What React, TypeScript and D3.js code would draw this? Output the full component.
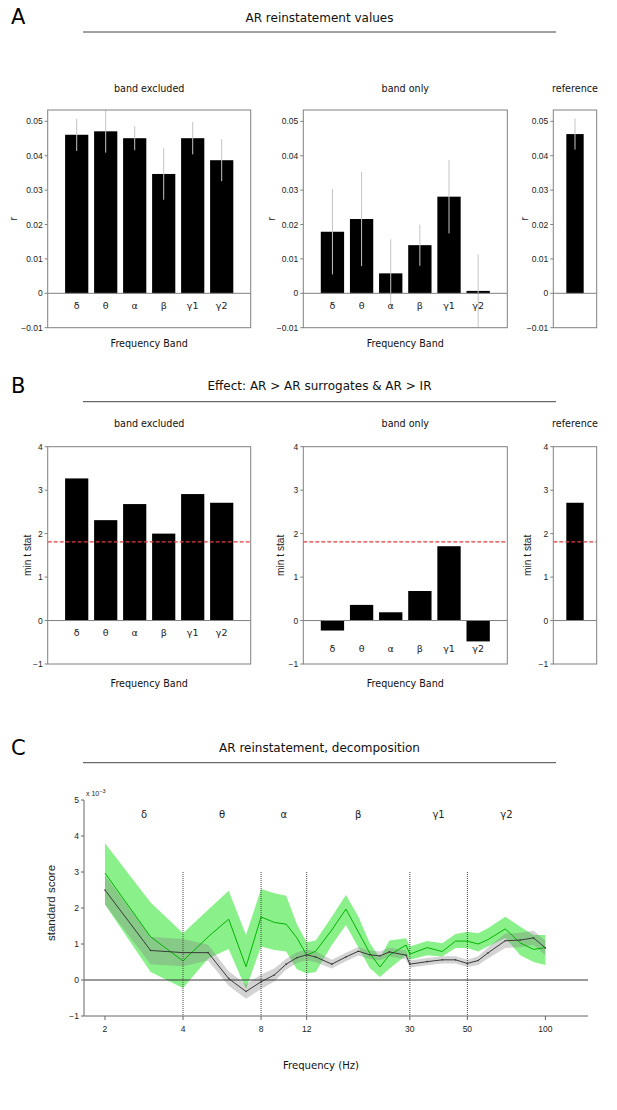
import * as d3 from "d3";

const VERDANA = "'DejaVu Sans', Verdana, sans-serif";
const ARIAL = "'Liberation Sans', Arial, sans-serif";

const bandNames = ["δ", "θ", "α", "β", "γ1", "γ2"];

// panel A: r values with error bars
const excludedR = [0.0461, 0.0471, 0.0451, 0.0347, 0.0451, 0.0387];
const excludedRErr = [0.0047, 0.0062, 0.0035, 0.0075, 0.0047, 0.0061];
const onlyR = [0.0179, 0.0216, 0.0058, 0.014, 0.0281, 0.0007];
const onlyRErr = [0.0124, 0.0137, 0.0099, 0.006, 0.0107, 0.0106];
const referenceR = [0.0463];
const referenceRErr = [0.0045];
const rTicks = [-0.01, 0, 0.01, 0.02, 0.03, 0.04, 0.05];

// panel B: min t stat
const excludedT = [3.27, 2.31, 2.68, 2.0, 2.91, 2.71];
const onlyT = [-0.23, 0.36, 0.19, 0.68, 1.71, -0.48];
const referenceT = [2.71];
const tTicks = [-1, 0, 1, 2, 3, 4];
const tThreshold = 1.81;

// panel C: decomposition (x 10^-3)
const freqs = [2, 3, 4, 5, 6, 7, 8, 9, 10, 11, 12, 13, 15, 17, 19, 21, 23, 25, 29, 30, 35, 40, 45, 50, 55, 60, 70, 80, 90, 100];
const greenMean = [2.97, 1.2, 0.53, 1.2, 1.69, 0.37, 1.75, 1.6, 1.55, 1.17, 0.69, 0.8, 1.39, 1.97, 1.33, 0.75, 0.36, 0.69, 0.97, 0.72, 0.9, 0.79, 1.08, 1.08, 1.0, 1.12, 1.42, 1.03, 0.85, 0.9];
const greenUpper = [3.8, 2.15, 1.3, 1.95, 2.48, 1.25, 2.53, 2.41, 2.34, 1.55, 1.05, 1.1, 1.76, 2.36, 1.76, 1.03, 0.61, 1.1, 1.16, 0.93, 1.08, 1.02, 1.28, 1.34, 1.3, 1.44, 1.76, 1.48, 1.25, 1.25];
const greenLower = [2.1, 0.22, -0.22, 0.6, 0.86, -0.25, 0.93, 0.83, 0.79, 0.3, 0.18, 0.22, 0.97, 1.53, 0.9, 0.33, 0.08, 0.31, 0.69, 0.56, 0.69, 0.65, 0.89, 0.89, 0.79, 0.93, 1.17, 0.69, 0.5, 0.42];
const grayMean = [2.5, 0.82, 0.76, 0.76, 0.04, -0.32, -0.05, 0.14, 0.44, 0.62, 0.7, 0.64, 0.44, 0.64, 0.8, 0.7, 0.67, 0.78, 0.69, 0.44, 0.51, 0.56, 0.56, 0.46, 0.54, 0.75, 1.09, 1.11, 1.17, 0.89];
const graySem = [0.4, 0.38, 0.38, 0.22, 0.2, 0.2, 0.2, 0.18, 0.15, 0.15, 0.15, 0.15, 0.12, 0.12, 0.12, 0.12, 0.12, 0.12, 0.12, 0.1, 0.1, 0.1, 0.1, 0.1, 0.12, 0.15, 0.2, 0.2, 0.2, 0.2];
const bandEdges = [2, 4, 8, 12, 30, 50, 100];
const freqTicks = [2, 4, 8, 12, 30, 50, 100];
const scoreTicks = [-1, 0, 1, 2, 3, 4, 5];

const minus = (s: string) => s.replace("-", "\u2212");

type BarPanelProps = {
  left: number;
  right: number;
  top: number;
  bottom: number;
  domain: [number, number];
  ticks: number[];
  fmt: (v: number) => string;
  values: number[];
  errs?: number[];
  labels?: string[];
  labelY?: number;
  threshold?: number;
  title: string;
  titleY: number;
  yLabel: string;
  yLabelX: number;
  xLabel?: string;
  xLabelY?: number;
};

const BarPanel = (p: BarPanelProps) => {
  const x = d3.scaleLinear().domain([0, p.values.length + 1]).range([p.left, p.right]);
  const y = d3.scaleLinear().domain(p.domain).range([p.bottom, p.top]);
  const bw = x(0.8) - x(0);
  const cx = (p.left + p.right) / 2;
  const clamp = (v: number) => Math.max(p.top, Math.min(p.bottom, v));
  return (
    <g>
      <text x={cx} y={p.titleY} textAnchor="middle" fontFamily={VERDANA} fontSize={9.6} fill="#111">
        {p.title}
      </text>
      {p.values.map((v, i) => (
        <rect
          key={i}
          x={x(i + 1) - bw / 2}
          y={y(Math.max(v, 0))}
          width={bw}
          height={Math.abs(y(v) - y(0))}
          fill="#000"
        />
      ))}
      {p.errs &&
        p.values.map((v, i) => (
          <line
            key={i}
            x1={x(i + 1)}
            x2={x(i + 1)}
            y1={clamp(y(v + p.errs![i]))}
            y2={clamp(y(v - p.errs![i]))}
            stroke="#c4c4c4"
            strokeWidth={1}
          />
        ))}
      <line x1={p.left} x2={p.right} y1={y(0)} y2={y(0)} stroke="#808080" strokeWidth={1} />
      {p.threshold !== undefined && (
        <line
          x1={p.left}
          x2={p.right}
          y1={y(p.threshold)}
          y2={y(p.threshold)}
          stroke="#e03c3c"
          strokeWidth={1.4}
          strokeDasharray="4,2"
        />
      )}
      <rect x={p.left} y={p.top} width={p.right - p.left} height={p.bottom - p.top} fill="none" stroke="#808080" strokeWidth={1} />
      {p.ticks.map((t) => (
        <g key={t}>
          <line x1={p.left - 3} x2={p.left} y1={y(t)} y2={y(t)} stroke="#808080" />
          <text x={p.left - 5} y={y(t) + 3} textAnchor="end" fontFamily={ARIAL} fontSize={8.5} fill="#222">
            {minus(p.fmt(t))}
          </text>
        </g>
      ))}
      {p.labels &&
        p.labels.map((l, i) => (
          <text key={l} x={x(i + 1)} y={p.labelY} textAnchor="middle" fontFamily={VERDANA} fontSize={9.5} fill="#222">
            {l}
          </text>
        ))}
      <text
        transform={`translate(${p.yLabelX + 3.5}, ${(p.top + p.bottom) / 2}) rotate(-90)`}
        textAnchor="middle"
        fontFamily={ARIAL}
        fontSize={10.2}
        fill="#222"
      >
        {p.yLabel}
      </text>
      {p.xLabel && (
        <text x={cx} y={p.xLabelY} textAnchor="middle" fontFamily={VERDANA} fontSize={9.6} fill="#111">
          {p.xLabel}
        </text>
      )}
    </g>
  );
};

const Header = ({ letter, title, baseline, letterBaseline, rule }: { letter: string; title: string; baseline: number; letterBaseline: number; rule: number }) => (
  <g>
    <text x={11} y={letterBaseline} fontFamily={VERDANA} fontSize={21} fill="#000">
      {letter}
    </text>
    <text x={319.5} y={baseline} textAnchor="middle" fontFamily={VERDANA} fontSize={12} fill="#111">
      {title}
    </text>
    <line x1={83} x2={556} y1={rule} y2={rule} stroke="#444" strokeWidth={1} />
  </g>
);

const Decomposition = () => {
  const x = d3.scaleLog().domain([1.66, 146]).range([84, 588]);
  const y = d3.scaleLinear().domain([-1, 5]).range([1016, 800]);
  const idx = d3.range(freqs.length);
  const greenArea = d3
    .area<number>()
    .x((i) => x(freqs[i]))
    .y0((i) => y(greenLower[i]))
    .y1((i) => y(greenUpper[i]));
  const grayArea = d3
    .area<number>()
    .x((i) => x(freqs[i]))
    .y0((i) => y(grayMean[i] - graySem[i]))
    .y1((i) => y(grayMean[i] + graySem[i]));
  const greenLine = d3
    .line<number>()
    .x((i) => x(freqs[i]))
    .y((i) => y(greenMean[i]));
  const grayLine = d3
    .line<number>()
    .x((i) => x(freqs[i]))
    .y((i) => y(grayMean[i]));
  const [x0, x1] = x.range();
  return (
    <g>
      <path d={greenArea(idx) || undefined} fill="#7def7d" opacity={0.9} />
      <path d={grayArea(idx) || undefined} fill="#808080" opacity={0.35} />
      <path d={greenLine(idx) || undefined} fill="none" stroke="#00b400" strokeWidth={1} />
      <path d={grayLine(idx) || undefined} fill="none" stroke="#3a3a3a" strokeWidth={1} />
      {idx.map((i) => (
        <circle key={i} cx={x(freqs[i])} cy={y(grayMean[i])} r={0.8} fill="#3a3a3a" />
      ))}
      <line x1={x0} x2={x1} y1={y(0)} y2={y(0)} stroke="#333" strokeWidth={1} />
      {bandEdges.slice(1, -1).map((f) => (
        <line key={f} x1={x(f)} x2={x(f)} y1={y(3)} y2={y(-1)} stroke="#444" strokeWidth={1} strokeDasharray="1,1" />
      ))}
      {bandNames.map((b, i) => (
        <text
          key={b}
          x={x(Math.sqrt(bandEdges[i] * bandEdges[i + 1]))}
          y={y(4.6) + 3.5}
          textAnchor="middle"
          fontFamily={VERDANA}
          fontSize={10}
          fill="#222"
        >
          {b}
        </text>
      ))}
      <line x1={x0} x2={x0} y1={y(5)} y2={y(-1)} stroke="#666" strokeWidth={1} />
      <line x1={x0} x2={x1} y1={y(-1)} y2={y(-1)} stroke="#666" strokeWidth={1} />
      {scoreTicks.map((t) => (
        <g key={t}>
          <line x1={x0 - 3} x2={x0} y1={y(t)} y2={y(t)} stroke="#666" />
          <text x={x0 - 5} y={y(t) + 3} textAnchor="end" fontFamily={ARIAL} fontSize={8.5} fill="#222">
            {minus(String(t))}
          </text>
        </g>
      ))}
      {freqTicks.map((f) => (
        <g key={f}>
          <line x1={x(f)} x2={x(f)} y1={y(-1)} y2={y(-1) + 4} stroke="#666" />
          <text x={x(f)} y={y(-1) + 16} textAnchor="middle" fontFamily={ARIAL} fontSize={8.5} fill="#222">
            {f}
          </text>
        </g>
      ))}
      <text x={x0 + 2} y={y(5) - 4} fontFamily={ARIAL} fontSize={7} fill="#222">
        x 10
        <tspan dy={-3} fontSize={5.5}>
          {"\u22123"}
        </tspan>
      </text>
      <text transform={`translate(55, ${(y(5) + y(-1)) / 2 - 5}) rotate(-90)`} textAnchor="middle" fontFamily={ARIAL} fontSize={11.5} fill="#222">
        standard score
      </text>
      <text x={(x0 + x1) / 2 - 15} y={1069} textAnchor="middle" fontFamily={VERDANA} fontSize={10.1} fill="#111">
        Frequency (Hz)
      </text>
    </g>
  );
};

const rFmt = (v: number) => (v === 0 ? "0" : v.toFixed(2));
const tFmt = (v: number) => String(v);

export default function App() {
  const aBox = { top: 110, bottom: 327.7, domain: [-0.01, 0.0533] as [number, number], ticks: rTicks, fmt: rFmt };
  const bBox = { top: 446.7, bottom: 664, domain: [-1, 4] as [number, number], ticks: tTicks, fmt: tFmt };
  return (
    <svg width={617} height={1110} style={{ position: "absolute", left: 0, top: 0, background: "#fff" }}>
      <Header letter="A" title="AR reinstatement values" baseline={21.5} letterBaseline={23.5} rule={32} />
      <BarPanel {...aBox} left={47.7} right={250.7} values={excludedR} errs={excludedRErr} labels={bandNames} labelY={309}
        title="band excluded" titleY={91.5} yLabel="r" yLabelX={13} xLabel="Frequency Band" xLabelY={347} />
      <BarPanel {...aBox} left={303.3} right={507.3} values={onlyR} errs={onlyRErr} labels={bandNames} labelY={309}
        title="band only" titleY={91.5} yLabel="r" yLabelX={271.7} xLabel="Frequency Band" xLabelY={347} />
      <BarPanel {...aBox} left={553.3} right={596.7} values={referenceR} errs={referenceRErr}
        title="reference" titleY={91.5} yLabel="r" yLabelX={524} />

      <Header letter="B" title="Effect: AR > AR surrogates & AR > IR" baseline={390} letterBaseline={393} rule={401.7} />
      <BarPanel {...bBox} left={47.7} right={250.7} values={excludedT} labels={bandNames} labelY={636} threshold={tThreshold}
        title="band excluded" titleY={427} yLabel="min t stat" yLabelX={27} xLabel="Frequency Band" xLabelY={686.5} />
      <BarPanel {...bBox} left={303.3} right={507.3} values={onlyT} labels={bandNames} labelY={652} threshold={tThreshold}
        title="band only" titleY={427} yLabel="min t stat" yLabelX={280} xLabel="Frequency Band" xLabelY={686.5} />
      <BarPanel {...bBox} left={553.3} right={596.7} values={referenceT} threshold={tThreshold}
        title="reference" titleY={427} yLabel="min t stat" yLabelX={527.7} />

      <Header letter="C" title="AR reinstatement, decomposition" baseline={752} letterBaseline={755} rule={762.7} />
      <Decomposition />
    </svg>
  );
}
